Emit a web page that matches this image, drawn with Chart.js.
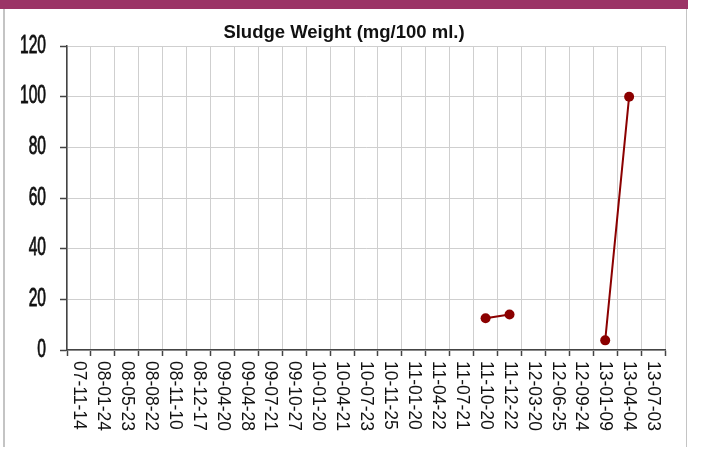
<!DOCTYPE html>
<html>
<head>
<meta charset="utf-8">
<script src="https://cdn.jsdelivr.net/npm/chart.js@4"></script>
<style>
  body { margin: 0; background: #fff; }
  #wrap { position: relative; width: 702px; height: 450px; }
  #bar { position: absolute; left: 0; top: 0; width: 688px; height: 9px; background: #9b3466; }
  #frame { position: absolute; left: 3px; top: 9px; width: 681px; height: 438px;
           border-left: 2px solid #c4c4c4; border-right: 1px solid #c4c4c4; }
  canvas { position: absolute; left: 0; top: 0; }
</style>
</head>
<body>
<div id="wrap">
  <canvas id="chart" width="702" height="450"></canvas>
  <div id="bar"></div>
  <div id="frame"></div>
</div>
<script>
// Sample dates (yy-mm-dd)
const dates = ['07-11-14', '08-01-24', '08-05-23', '08-08-22', '08-11-10', '08-12-17',
  '09-04-20', '09-04-28', '09-07-21', '09-10-27', '10-01-20', '10-04-21', '10-07-23',
  '10-11-25', '11-01-20', '11-04-22', '11-07-21', '11-10-20', '11-12-22', '12-03-20',
  '12-06-25', '12-09-24', '13-01-09', '13-04-04', '13-07-03'];

// Sludge weight, mg/100 ml (null = no reading)
const sludgeWeight = [null, null, null, null, null, null, null, null, null, null,
  null, null, null, null, null, null, null, 12.5, 14, null, null, null, 3.8, 100, null];

// Y axis
const yMin = 0;
const yMax = 120;
const yStep = 20;

const title = 'Sludge Weight (mg/100 ml.)';

// Draw tick labels by hand: narrow y labels, x labels rotated clockwise
const tickLabels = {
  id: 'tickLabels',
  afterDraw(chart) {
    const ctx = chart.ctx;
    const x = chart.scales.x;
    const y = chart.scales.y;
    ctx.save();
    ctx.fillStyle = '#111';
    ctx.strokeStyle = '#111';

    ctx.font = '26px "Liberation Sans", Arial, sans-serif';
    ctx.textAlign = 'right';
    ctx.textBaseline = 'alphabetic';
    ctx.lineWidth = 0.8;
    y.ticks.forEach(t => {
      ctx.save();
      ctx.translate(46, y.getPixelForValue(t.value) + 6.5);
      ctx.scale(0.6, 1);
      ctx.fillText(String(t.value), 0, 0);
      ctx.strokeText(String(t.value), 0, 0);
      ctx.restore();
    });

    ctx.font = '17.5px "Liberation Sans", Arial, sans-serif';
    ctx.textAlign = 'left';
    ctx.textBaseline = 'middle';
    dates.forEach((d, i) => {
      ctx.save();
      ctx.translate(x.getPixelForTick(i), x.top + 11);
      ctx.rotate(Math.PI / 2);
      ctx.fillText(d, 0, 0);
      ctx.restore();
    });
    ctx.restore();
  }
};

new Chart(document.getElementById('chart'), {
  type: 'line',
  data: {
    labels: dates,
    datasets: [{
      data: sludgeWeight,
      borderColor: '#8b0000',
      backgroundColor: '#8b0000',
      borderWidth: 2,
      pointRadius: 5,
      pointBorderWidth: 0,
      spanGaps: false,
      tension: 0
    }]
  },
  options: {
    responsive: false,
    animation: false,
    layout: { padding: { left: 23, right: 37, top: 0, bottom: 0 } },
    plugins: {
      legend: { display: false },
      tooltip: { enabled: false },
      title: {
        display: true,
        text: title,
        color: '#111',
        font: { family: '"Liberation Sans", Arial, sans-serif', size: 18.5, weight: 'bold', lineHeight: 1.2 },
        padding: { top: 22, bottom: 1.8 }
      }
    },
    scales: {
      x: {
        offset: true,
        grid: { offset: true, color: '#cfcfcf', tickColor: '#444', tickLength: 6, tickWidth: 1.5 },
        border: { color: '#444', width: 1.5 },
        ticks: { display: false },
        afterFit: s => { s.height = 100; }
      },
      y: {
        min: yMin,
        max: yMax,
        ticks: { display: false, stepSize: yStep },
        grid: { color: '#cfcfcf', tickColor: '#444', tickLength: 7, tickWidth: 1.5 },
        border: { color: '#444', width: 1.5 },
        afterFit: s => { s.width = 44; }
      }
    }
  },
  plugins: [tickLabels]
});
</script>
</body>
</html>
